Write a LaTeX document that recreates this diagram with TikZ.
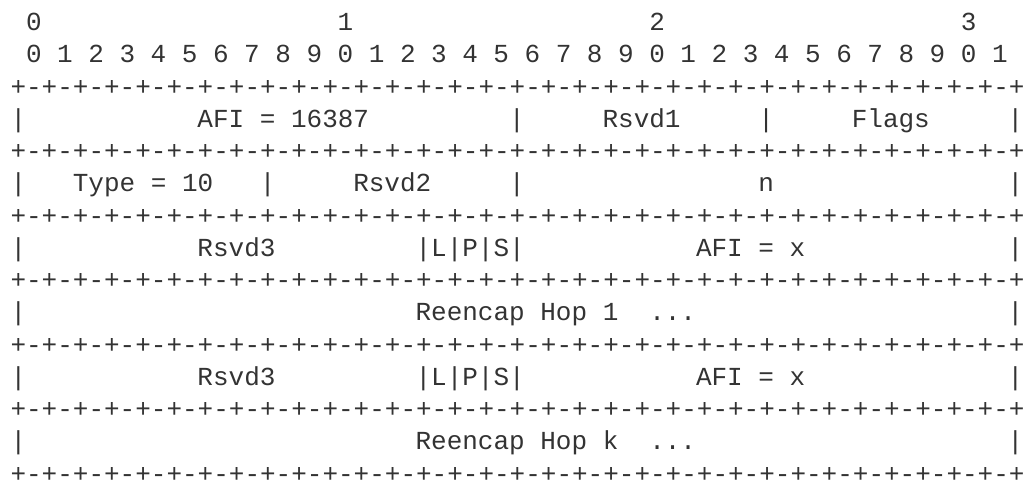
\documentclass[tikz,border=0pt]{standalone}
\usepackage{fontspec}
\newfontfamily\rfcmono{Liberation Mono}[WordSpace={1,0,0}]
\definecolor{inkgray}{RGB}{51,51,51}
\begin{document}
\begin{tikzpicture}[x=15.58pt,y=-32.25pt,inner sep=0pt,outer sep=0pt,
field/.style={anchor=base west,font=\rfcmono\fontsize{26pt}{32pt}\selectfont,text=inkgray}]
\useasboundingbox (-10.5pt,30.5pt) rectangle ++(1024pt,-485pt);
% bit ruler
\foreach \t in {0,...,3}
  \node[field] (ten\t) at (1+20*\t,0) {\t};
\foreach \b in {0,...,31}{
  \pgfmathtruncatemacro\d{mod(\b,10)}
  \node[field] (bit\b) at (1+2*\b,1) {\d};}
% rules and cell walls
\foreach \r in {2,4,...,14}
  \node[field] (rule\r) at (0,\r) {+-+-+-+-+-+-+-+-+-+-+-+-+-+-+-+-+-+-+-+-+-+-+-+-+-+-+-+-+-+-+-+-+};
\foreach \r/\cols in {3/{0,32,48,64},5/{0,16,32,64},7/{0,64},
  9/{0,64},11/{0,64},13/{0,64}}
  \foreach \c in \cols
    \node[field] (pipe\r-\c) at (\c,\r) {|};
% fields
\node[field] (afi) at (12,3) {AFI = 16387};
\node[field] (rsvd1) at (38,3) {Rsvd1};
\node[field] (flags) at (54,3) {Flags};
\node[field] (type) at (4,5) {Type = 10};
\node[field] (rsvd2) at (22,5) {Rsvd2};
\node[field] (n) at (48,5) {n};
\foreach \r in {7,11}{
  \node[field] (rsvd3-\r) at (12,\r) {Rsvd3};
  \node[field] (lps\r) at (26,\r) {|L|P|S|};
  \node[field] (afix\r) at (44,\r) {AFI = x};}
\foreach \r/\h in {9/1,13/k}{
  \node[field] (hop\r) at (26,\r) {Reencap Hop \h};
  \node[field] (dots\r) at (41,\r) {...};}
\end{tikzpicture}
\end{document}
